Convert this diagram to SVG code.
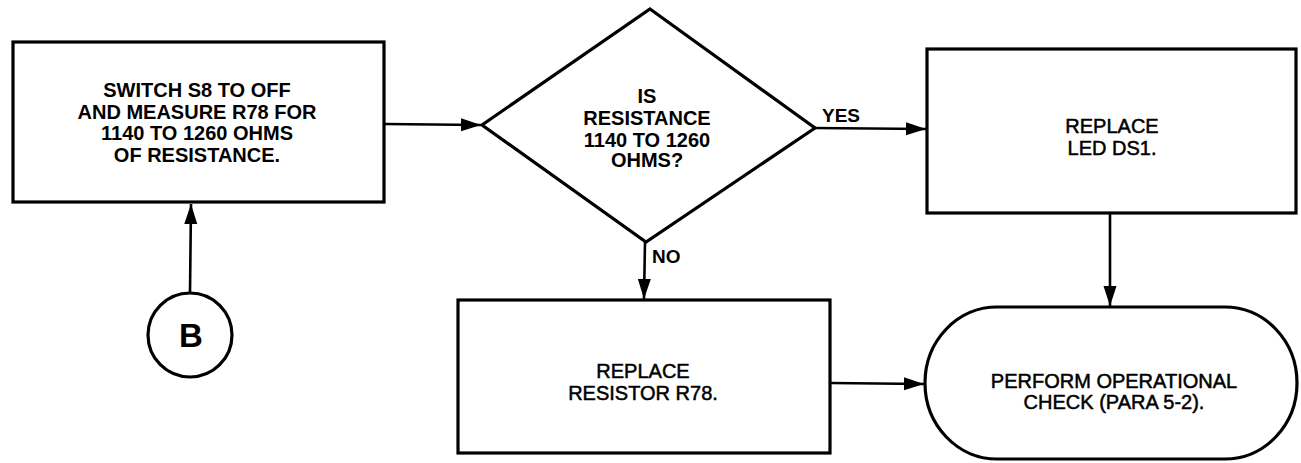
<svg xmlns="http://www.w3.org/2000/svg" width="1301" height="463" viewBox="0 0 1301 463">
<style>
.shape{fill:#fff;stroke:#000;stroke-width:3.2;stroke-linejoin:miter}
.conn{fill:none;stroke:#000;stroke-width:2.6}
.t{font-family:"Liberation Sans",Arial,sans-serif;font-size:20px;fill:#000;text-anchor:middle}
.r{stroke:#000;stroke-width:0.5}
.b{font-weight:bold}
.lbl{font-family:"Liberation Sans",Arial,sans-serif;font-size:19px;font-weight:bold;fill:#000}
</style>
<defs>
<marker id="arr" markerUnits="userSpaceOnUse" markerWidth="22" markerHeight="14" refX="20" refY="6.5" orient="auto">
<path d="M0,0 L20,6.5 L0,13 z" fill="#000"/>
</marker>
</defs>
<g id="connectors">
<line class="conn" x1="384" y1="124" x2="481" y2="125" marker-end="url(#arr)"/>
<line class="conn" x1="814" y1="128" x2="926" y2="129" marker-end="url(#arr)"/>
<line class="conn" x1="645" y1="242" x2="644" y2="299" marker-end="url(#arr)"/>
<line class="conn" x1="1110" y1="213" x2="1110" y2="306" marker-end="url(#arr)"/>
<line class="conn" x1="830" y1="383" x2="924" y2="384" marker-end="url(#arr)"/>
<line class="conn" x1="190" y1="293" x2="191" y2="204" marker-end="url(#arr)"/>
</g>
<g id="box1">
<rect class="shape" x="13" y="42" width="371" height="160"/>
<text class="t b" x="197" y="97">SWITCH S8 TO OFF</text>
<text class="t b" x="197" y="118.5">AND MEASURE R78 FOR</text>
<text class="t b" x="197" y="140">1140 TO 1260 OHMS</text>
<text class="t b" x="197" y="161.5">OF RESISTANCE.</text>
</g>
<g id="decision">
<polygon class="shape" points="650,9 815,128 646,242 482,125"/>
<text class="t b" x="647" y="103">IS</text>
<text class="t b" x="647" y="125">RESISTANCE</text>
<text class="t b" x="647" y="147">1140 TO 1260</text>
<text class="t b" x="647" y="167">OHMS?</text>
<text class="lbl" x="822" y="122">YES</text>
<text class="lbl" x="652" y="263">NO</text>
</g>
<g id="box3">
<rect class="shape" x="927" y="49" width="369" height="164"/>
<text class="t r" x="1112" y="133">REPLACE</text>
<text class="t r" x="1112" y="155">LED DS1.</text>
</g>
<g id="box2">
<rect class="shape" x="458" y="300" width="372" height="153"/>
<text class="t r" x="643" y="378">REPLACE</text>
<text class="t r" x="643" y="400">RESISTOR R78.</text>
</g>
<g id="terminal">
<rect class="shape" x="925" y="307" width="372" height="152" rx="72" ry="76"/>
<text class="t r" x="1114" y="388">PERFORM OPERATIONAL</text>
<text class="t r" x="1114" y="409">CHECK (PARA 5-2).</text>
</g>
<g id="connectorB">
<circle class="shape" cx="190" cy="335" r="42"/>
<text class="t b" x="191" y="347" style="font-size:33px">B</text>
</g>
</svg>
